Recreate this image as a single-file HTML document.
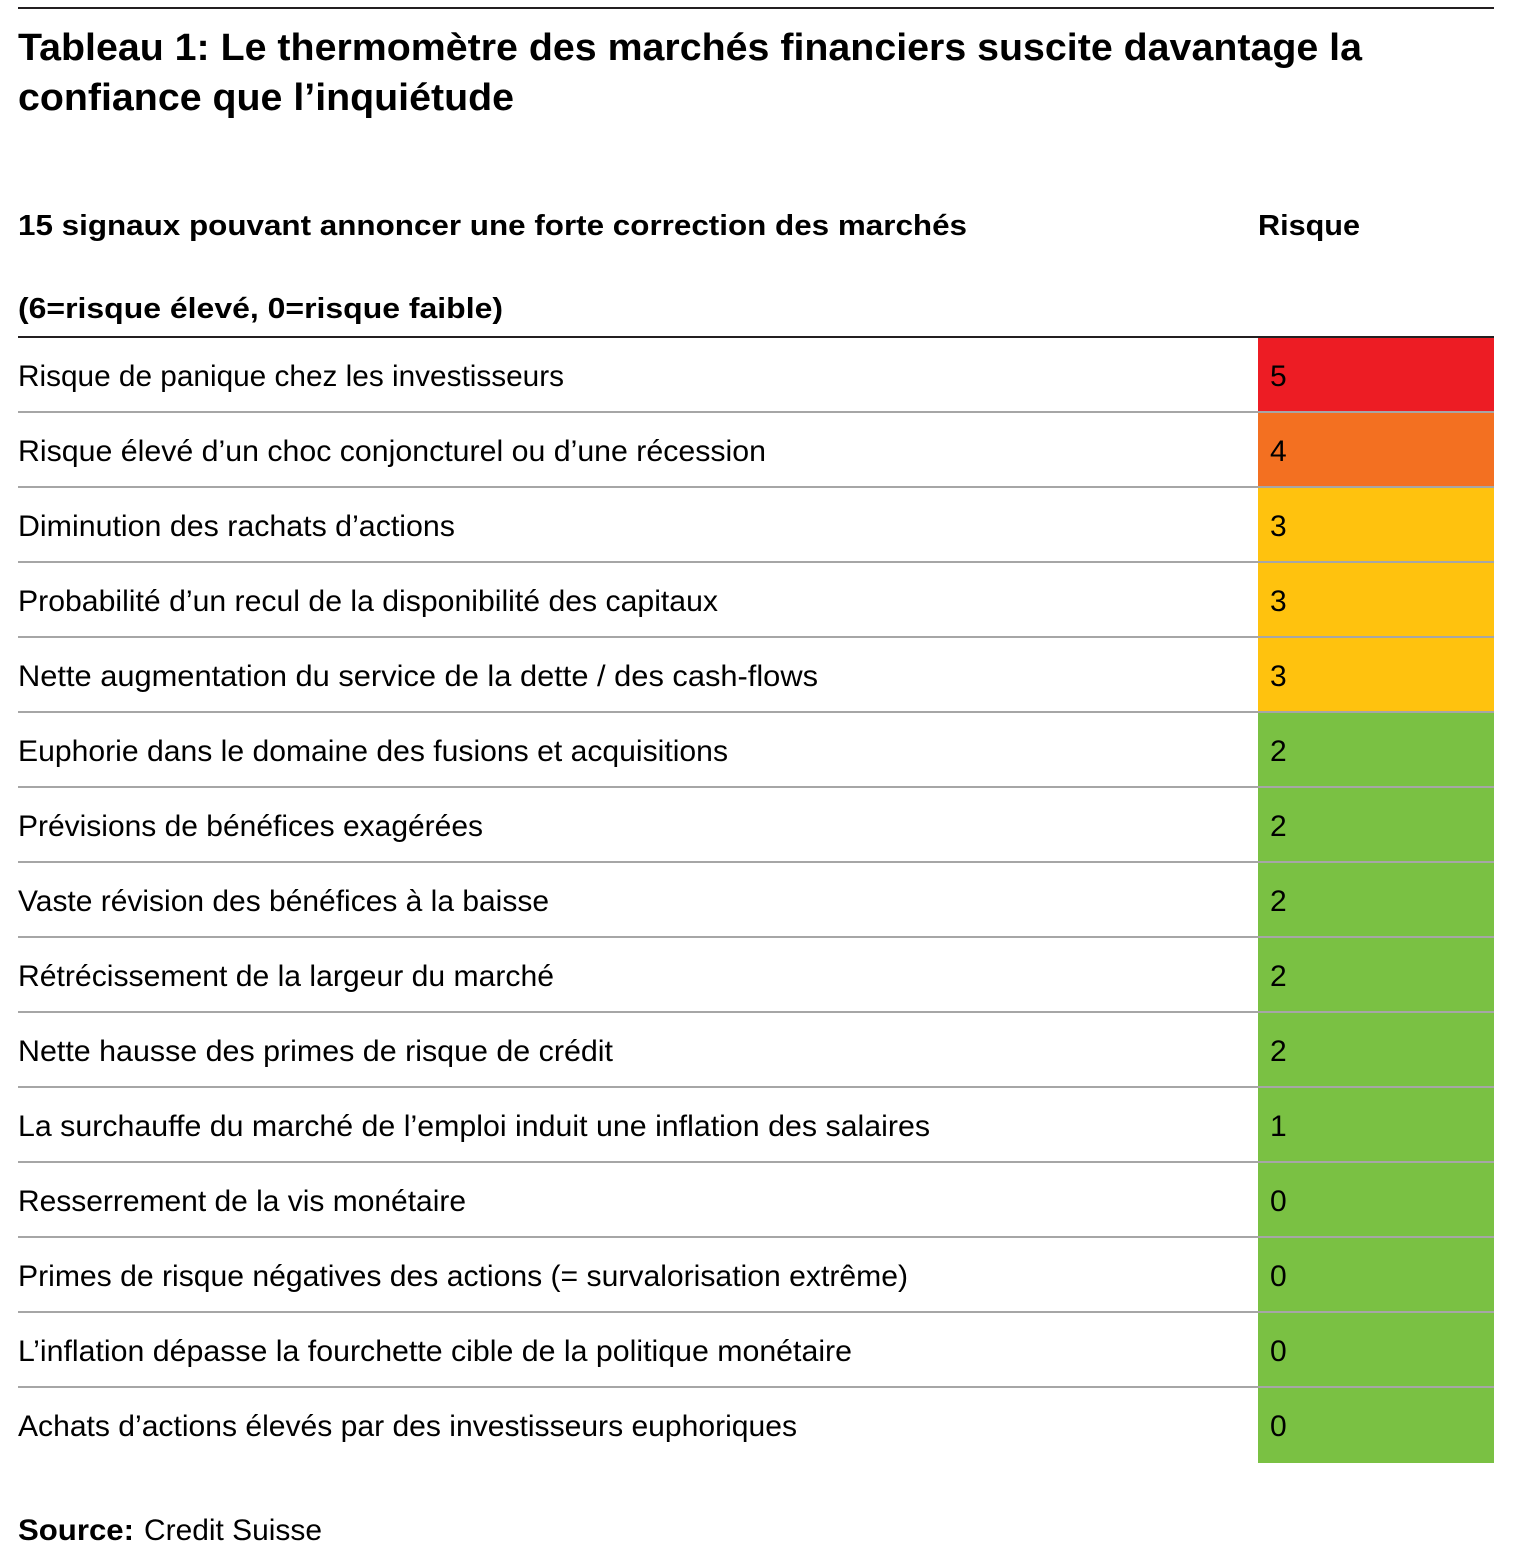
<!DOCTYPE html>
<html><head><meta charset="utf-8"><style>
html,body{margin:0;padding:0;background:#fff;}
svg{display:block;}
text{font-family:"Liberation Sans",sans-serif;fill:#000;}
.b{font-weight:bold;}
</style></head><body>
<svg width="1532" height="1559" viewBox="0 0 1532 1559" xmlns="http://www.w3.org/2000/svg">
<rect x="18" y="7" width="1476" height="2" fill="#231f20"/>
<text class="b" x="18" y="60" font-size="38" textLength="1344" lengthAdjust="spacingAndGlyphs">Tableau 1: Le thermomètre des marchés financiers suscite davantage la</text>
<text class="b" x="18" y="110" font-size="38" textLength="496" lengthAdjust="spacingAndGlyphs">confiance que l’inquiétude</text>
<text class="b" x="18" y="235" font-size="29" textLength="949" lengthAdjust="spacingAndGlyphs">15 signaux pouvant annoncer une forte correction des marchés</text>
<text class="b" x="1258" y="235" font-size="29" textLength="102" lengthAdjust="spacingAndGlyphs">Risque</text>
<text class="b" x="18" y="318" font-size="29" textLength="485" lengthAdjust="spacingAndGlyphs">(6=risque élevé, 0=risque faible)</text>

<rect x="1258" y="338" width="236" height="75" fill="#ed1c24"/>
<rect x="1258" y="413" width="236" height="75" fill="#f37021"/>
<rect x="1258" y="488" width="236" height="225" fill="#ffc20e"/>
<rect x="1258" y="713" width="236" height="750" fill="#7ac143"/>

<g fill="#a6a6a6">
<rect x="18" y="411" width="1476" height="2"/>
<rect x="18" y="486" width="1476" height="2"/>
<rect x="18" y="561" width="1476" height="2"/>
<rect x="18" y="636" width="1476" height="2"/>
<rect x="18" y="711" width="1476" height="2"/>
<rect x="18" y="786" width="1476" height="2"/>
<rect x="18" y="861" width="1476" height="2"/>
<rect x="18" y="936" width="1476" height="2"/>
<rect x="18" y="1011" width="1476" height="2"/>
<rect x="18" y="1086" width="1476" height="2"/>
<rect x="18" y="1161" width="1476" height="2"/>
<rect x="18" y="1236" width="1476" height="2"/>
<rect x="18" y="1311" width="1476" height="2"/>
<rect x="18" y="1386" width="1476" height="2"/>
</g>
<rect x="18" y="336" width="1476" height="2" fill="#231f20"/>

<g font-size="30">
<text x="18" y="386" textLength="546" lengthAdjust="spacingAndGlyphs">Risque de panique chez les investisseurs</text>
<text x="18" y="461" textLength="748" lengthAdjust="spacingAndGlyphs">Risque élevé d’un choc conjoncturel ou d’une récession</text>
<text x="18" y="536" textLength="437" lengthAdjust="spacingAndGlyphs">Diminution des rachats d’actions</text>
<text x="18" y="611" textLength="700" lengthAdjust="spacingAndGlyphs">Probabilité d’un recul de la disponibilité des capitaux</text>
<text x="18" y="686" textLength="800" lengthAdjust="spacingAndGlyphs">Nette augmentation du service de la dette / des cash-flows</text>
<text x="18" y="761" textLength="710" lengthAdjust="spacingAndGlyphs">Euphorie dans le domaine des fusions et acquisitions</text>
<text x="18" y="836" textLength="465" lengthAdjust="spacingAndGlyphs">Prévisions de bénéfices exagérées</text>
<text x="18" y="911" textLength="531" lengthAdjust="spacingAndGlyphs">Vaste révision des bénéfices à la baisse</text>
<text x="18" y="986" textLength="536" lengthAdjust="spacingAndGlyphs">Rétrécissement de la largeur du marché</text>
<text x="18" y="1061" textLength="595" lengthAdjust="spacingAndGlyphs">Nette hausse des primes de risque de crédit</text>
<text x="18" y="1136" textLength="912" lengthAdjust="spacingAndGlyphs">La surchauffe du marché de l’emploi induit une inflation des salaires</text>
<text x="18" y="1211" textLength="448" lengthAdjust="spacingAndGlyphs">Resserrement de la vis monétaire</text>
<text x="18" y="1286" textLength="890" lengthAdjust="spacingAndGlyphs">Primes de risque négatives des actions (= survalorisation extrême)</text>
<text x="18" y="1361" textLength="834" lengthAdjust="spacingAndGlyphs">L’inflation dépasse la fourchette cible de la politique monétaire</text>
<text x="18" y="1436" textLength="779" lengthAdjust="spacingAndGlyphs">Achats d’actions élevés par des investisseurs euphoriques</text>

<text x="1270" y="386">5</text>
<text x="1270" y="461">4</text>
<text x="1270" y="536">3</text>
<text x="1270" y="611">3</text>
<text x="1270" y="686">3</text>
<text x="1270" y="761">2</text>
<text x="1270" y="836">2</text>
<text x="1270" y="911">2</text>
<text x="1270" y="986">2</text>
<text x="1270" y="1061">2</text>
<text x="1270" y="1136">1</text>
<text x="1270" y="1211">0</text>
<text x="1270" y="1286">0</text>
<text x="1270" y="1361">0</text>
<text x="1270" y="1436">0</text>

<text class="b" x="18" y="1540" textLength="116" lengthAdjust="spacingAndGlyphs">Source:</text>
<text x="144" y="1540" textLength="178" lengthAdjust="spacingAndGlyphs">Credit Suisse</text>
</g>
</svg>
</body></html>
